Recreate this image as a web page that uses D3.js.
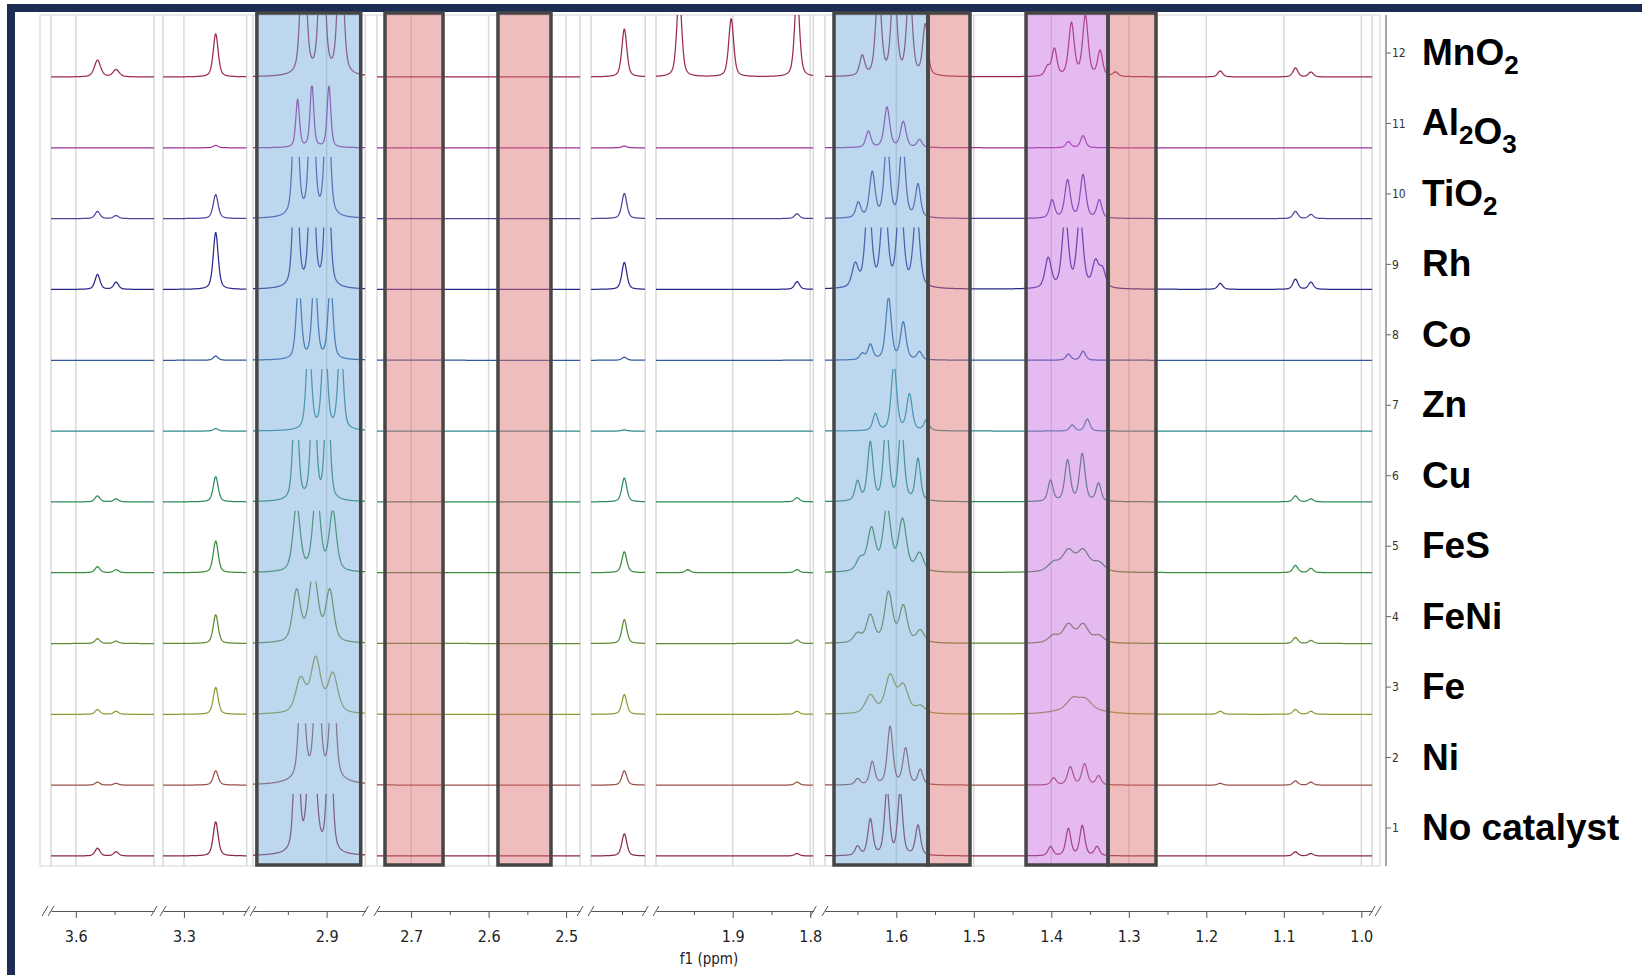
<!DOCTYPE html>
<html>
<head>
<meta charset="utf-8">
<script src="https://cdn.jsdelivr.net/npm/d3@7"></script>
<style>
  body { margin: 0; background: #fff; }
  svg { display: block; }
</style>
</head>
<body>
<svg width="1642" height="975"></svg>
<script>
'use strict';

// traces, bottom one first (trace number = index + 1)
var catalysts = ['No catalyst', 'Ni', 'Fe', 'FeNi', 'FeS', 'Cu', 'Zn', 'Co', 'Rh', 'TiO2', 'Al2O3', 'MnO2'];

// ppm windows of the broken f1 axis, left to right
var segments = [[3.632, 3.499], [3.327, 3.219], [2.995, 2.850], [2.744, 2.482], [2.19, 2.12], [1.999, 1.796], [1.692, 0.986]];
var majorTicks = [[3.6], [3.3], [2.9], [2.7, 2.6, 2.5], [], [1.9, 1.8], [1.6, 1.5, 1.4, 1.3, 1.2, 1.1, 1.0]];
var minorTicks = [[3.55], [3.25], [2.95], [2.65, 2.55], [2.15], [1.95, 1.85], [1.65, 1.55, 1.45, 1.35, 1.25, 1.15, 1.05]];

// highlighted ppm ranges
var boxRanges = [[2.990, 2.856], [2.7337, 2.6588], [2.5879, 2.5195], [1.6804, 1.5591], [1.5591, 1.5049], [1.4326, 1.3268], [1.3268, 1.2649]];
var boxKinds = ['blue', 'red', 'red', 'blue', 'red', 'purple', 'red'];

// peaks: [ppm, height (1 = one trace step), half width in ppm]
var peaksNoCatalyst = [
  [3.572, 0.13], [3.548, 0.07], [3.259, 0.57],
  [2.9387, 2.5], [2.919, 2.6, 0.0055], [2.896, 2.5],
  [2.147, 0.37], [1.817, 0.04],
  [1.650, 0.15], [1.6335, 0.6], [1.612, 1.1], [1.595, 1.05], [1.572, 0.5],
  [1.401, 0.15], [1.378, 0.45], [1.360, 0.5], [1.341, 0.15],
  [1.085, 0.07], [1.065, 0.04]
];
var peaksNi = [
  [3.572, 0.05], [3.548, 0.03], [3.259, 0.24],
  [2.932, 2.0, 0.0042], [2.912, 2.3, 0.0042], [2.892, 2.0, 0.0042], [2.912, 0.12, 0.03],
  [2.147, 0.24], [1.817, 0.05],
  [1.650, 0.1], [1.631, 0.38], [1.608, 0.97, 0.0042], [1.588, 0.6, 0.0042], [1.569, 0.25],
  [1.397, 0.12], [1.3755, 0.3, 0.0042], [1.357, 0.35, 0.0042], [1.339, 0.15],
  [1.182, 0.03], [1.085, 0.07], [1.065, 0.05]
];
var peaksFe = [
  [3.572, 0.08], [3.548, 0.05], [3.259, 0.45],
  [2.9335, 0.56, 0.0075], [2.914, 0.9, 0.0075], [2.892, 0.65, 0.0075],
  [2.147, 0.33], [1.817, 0.05],
  [1.6335, 0.3, 0.0075], [1.608, 0.62, 0.0075], [1.591, 0.45, 0.0075], [1.569, 0.12, 0.0075],
  [1.372, 0.17, 0.009], [1.356, 0.15, 0.009], [1.364, 0.1, 0.03],
  [1.182, 0.05], [1.085, 0.08], [1.065, 0.05]
];
var peaksFeNi = [
  [3.572, 0.08], [3.548, 0.04], [3.259, 0.48],
  [2.9387, 0.85, 0.006], [2.917, 1.15, 0.007], [2.896, 0.85, 0.006],
  [2.147, 0.4], [1.817, 0.06],
  [1.650, 0.15, 0.006], [1.6335, 0.45, 0.006], [1.610, 0.83, 0.006], [1.591, 0.6, 0.006], [1.569, 0.2, 0.006],
  [1.397, 0.12, 0.008], [1.378, 0.3, 0.008], [1.359, 0.3, 0.008], [1.339, 0.12, 0.008],
  [1.085, 0.1], [1.065, 0.05]
];
var peaksFeS = [
  [3.572, 0.1], [3.548, 0.05], [3.259, 0.53],
  [2.9387, 1.1, 0.0055], [2.913, 1.4, 0.0055], [2.892, 1.0, 0.0055],
  [2.147, 0.35], [1.958, 0.05], [1.817, 0.05],
  [1.6465, 0.2, 0.006], [1.632, 0.7, 0.006], [1.612, 1.05, 0.006], [1.592, 0.85, 0.006], [1.570, 0.3, 0.006],
  [1.397, 0.15, 0.009], [1.378, 0.34, 0.009], [1.359, 0.34, 0.009], [1.339, 0.15, 0.009],
  [1.085, 0.12], [1.065, 0.07]
];
var peaksCu = [
  [3.572, 0.1], [3.548, 0.05], [3.259, 0.42],
  [2.940, 2.0], [2.917, 2.2], [2.899, 2.0],
  [2.147, 0.4], [1.817, 0.07],
  [1.650, 0.32], [1.6335, 0.97, 0.0042], [1.613, 1.3, 0.0042], [1.5935, 1.25, 0.0042], [1.572, 0.7],
  [1.401, 0.35], [1.379, 0.68, 0.0042], [1.360, 0.79, 0.0042], [1.339, 0.3],
  [1.085, 0.1], [1.065, 0.05]
];
var peaksZn = [
  [3.259, 0.04],
  [2.923, 1.6], [2.9026, 1.8], [2.882, 1.6],
  [2.147, 0.02],
  [1.627, 0.28], [1.603, 1.1, 0.0042], [1.583, 0.6, 0.0042], [1.561, 0.18],
  [1.373, 0.1], [1.3535, 0.2]
];
var peaksCo = [
  [3.259, 0.07],
  [2.936, 1.3], [2.9155, 1.5], [2.895, 1.3],
  [2.147, 0.05],
  [1.644, 0.1], [1.6335, 0.25], [1.610, 1.04, 0.0042], [1.591, 0.62, 0.0042], [1.570, 0.13],
  [1.378, 0.1], [1.359, 0.15]
];
var peaksRh = [
  [3.572, 0.25], [3.548, 0.12], [3.259, 0.95],
  [2.940, 2.5], [2.919, 2.8], [2.899, 2.5],
  [2.147, 0.45], [1.817, 0.13],
  [1.653, 0.38, 0.0048], [1.636, 1.5, 0.0048], [1.6155, 1.6, 0.0048], [1.595, 1.6, 0.0048], [1.574, 1.3, 0.0048],
  [1.404, 0.5, 0.0048], [1.382, 1.2, 0.0048], [1.363, 1.2, 0.0048], [1.343, 0.42, 0.0048], [1.334, 0.3, 0.0048],
  [1.182, 0.1], [1.085, 0.17], [1.065, 0.12]
];
var peaksTiO2 = [
  [3.572, 0.12], [3.548, 0.05], [3.259, 0.4],
  [2.940, 2.5], [2.919, 2.8], [2.899, 2.5],
  [2.147, 0.42], [1.817, 0.08],
  [1.649, 0.25], [1.631, 0.75, 0.0042], [1.612, 1.3, 0.0042], [1.592, 1.3, 0.0042], [1.572, 0.55],
  [1.399, 0.3], [1.379, 0.63, 0.0042], [1.359, 0.72, 0.0042], [1.338, 0.3],
  [1.085, 0.12], [1.065, 0.07]
];
var peaksAl2O3 = [
  [3.259, 0.04],
  [2.9374, 0.8, 0.0028], [2.919, 1.05, 0.0028], [2.897, 1.03, 0.0028],
  [2.147, 0.03],
  [1.636, 0.27], [1.612, 0.67, 0.0042], [1.591, 0.43, 0.0042], [1.570, 0.13],
  [1.378, 0.1], [1.359, 0.2]
];
var peaksMnO2 = [
  [3.572, 0.28, 0.0048], [3.548, 0.12, 0.0048], [3.259, 0.72],
  [2.930, 2.5, 0.0042], [2.906, 2.8, 0.0042], [2.882, 2.5, 0.0042],
  [2.147, 0.8], [1.969, 1.4], [1.902, 0.97], [1.817, 1.4],
  [1.644, 0.33], [1.623, 1.5, 0.0042], [1.603, 1.6, 0.0042], [1.583, 1.5, 0.0042], [1.5626, 0.85],
  [1.405, 0.15], [1.396, 0.45], [1.374, 0.88, 0.0042], [1.356, 1.0, 0.0042], [1.337, 0.42],
  [1.317, 0.07], [1.182, 0.1], [1.085, 0.15], [1.065, 0.08]
];
var tracePeaks = [peaksNoCatalyst, peaksNi, peaksFe, peaksFeNi, peaksFeS, peaksCu,
  peaksZn, peaksCo, peaksRh, peaksTiO2, peaksAl2O3, peaksMnO2];

// styles
var traceColors = ['#8c2a44', '#9a5048', '#939a34', '#5e8c34', '#3a8a40', '#2e8a5a',
  '#2f8a8e', '#2f5a9c', '#2a2a8c', '#55409c', '#a0329c', '#9a2c4c'];
var boxFill = { blue: '#6ca6d9', red: '#db6c6c', purple: '#c365dd' };

// layout
var segmentLeft = [51, 163, 253, 377, 591, 656, 825];
var pxPerPpm = 775;
var unit = 60;       // px per unit of height
var clipH = 62;      // a trace is cut this far above its baseline
var plotTop = 15, plotBottom = 866, plotLeft = 40, plotRight = 1380;
var axisY = 911;
var eta = 0.5, defaultWidth = 0.0038;

var svg = d3.select('svg');

// dark frame
svg.append('rect').attr('x', 7).attr('y', 4).attr('width', 1635).attr('height', 8).attr('fill', '#1b2d52');
svg.append('rect').attr('x', 7).attr('y', 4).attr('width', 8).attr('height', 971).attr('fill', '#1b2d52');

// plot border
svg.append('rect')
  .attr('x', plotLeft).attr('y', plotTop)
  .attr('width', plotRight - plotLeft).attr('height', plotBottom - plotTop)
  .attr('fill', 'none').attr('stroke', '#d4d4d4').attr('stroke-width', 1);

var xScales = segments.map(function(dom, i) {
  var x0 = segmentLeft[i];
  return d3.scaleLinear().domain(dom).range([x0, x0 + (dom[0] - dom[1]) * pxPerPpm]);
});
function xOf(ppm) {
  for (var i = 0; i < xScales.length; i++) {
    var dom = segments[i];
    if (ppm <= dom[0] + 1e-9 && ppm >= dom[1] - 1e-9) return xScales[i](ppm);
  }
  return null;
}
var yBase = d3.scaleLinear().domain([1, 12]).range([856, 77]);
var yTick = d3.scaleLinear().domain([1, 12]).range([828, 53]);

// grid lines: segment edges and labelled ticks
var grid = svg.append('g');
xScales.forEach(function(s, i) {
  var xs = s.range().concat(majorTicks[i].map(s));
  xs.forEach(function(x) {
    grid.append('line')
      .attr('x1', x).attr('x2', x).attr('y1', plotTop).attr('y2', plotBottom)
      .attr('stroke', '#d9d9d9').attr('stroke-width', 1.5);
  });
});

// spectra
function shape(d, w) {
  var u = d / w;
  return eta / (1 + u * u) + (1 - eta) * Math.exp(-Math.LN2 * u * u);
}
function intensity(peaks, ppm) {
  var sum = 0;
  peaks.forEach(function(p) { sum += p[1] * shape(ppm - p[0], p[2] || defaultWidth); });
  return sum;
}

var defs = svg.append('defs');
var traces = svg.append('g');
tracePeaks.forEach(function(peaks, t) {
  var n = t + 1;
  var base = yBase(n);
  var top = Math.max(plotTop, base - clipH);
  defs.append('clipPath').attr('id', 'clip' + n)
    .append('rect')
    .attr('x', plotLeft).attr('width', plotRight - plotLeft)
    .attr('y', top).attr('height', base - top + 12);

  var line = d3.line().x(function(d) { return d[0]; }).y(function(d) { return d[1]; });
  var g = traces.append('g').attr('clip-path', 'url(#clip' + n + ')');
  xScales.forEach(function(s) {
    var r = s.range();
    var pts = [];
    for (var x = r[0]; x <= r[1] + 0.01; x += 0.5) {
      pts.push([x, base - intensity(peaks, s.invert(x)) * unit]);
    }
    g.append('path').attr('d', line(pts))
      .attr('fill', 'none').attr('stroke', traceColors[t])
      .attr('stroke-width', 1.25).attr('stroke-linejoin', 'round');
  });
});

// highlight boxes
var boxes = svg.append('g');
boxRanges.forEach(function(b, i) {
  var x1 = xOf(b[0]), x2 = xOf(b[1]);
  boxes.append('rect')
    .attr('x', x1).attr('y', plotTop - 2)
    .attr('width', x2 - x1).attr('height', plotBottom - plotTop + 1)
    .attr('fill', boxFill[boxKinds[i]]).attr('fill-opacity', 0.45);
});
boxRanges.forEach(function(b) {
  var x1 = xOf(b[0]), x2 = xOf(b[1]);
  boxes.append('rect')
    .attr('x', x1).attr('y', plotTop - 2)
    .attr('width', x2 - x1).attr('height', plotBottom - plotTop + 1)
    .attr('fill', 'none').attr('stroke', '#464646').attr('stroke-width', 3.5);
});

// broken f1 axis
var axisFont = '"DejaVu Sans Condensed", "DejaVu Sans", sans-serif';
var axisG = svg.append('g').attr('transform', 'translate(0,' + axisY + ')');
xScales.forEach(function(s, i) {
  var gMaj = axisG.append('g')
    .call(d3.axisBottom(s).tickValues(majorTicks[i]).tickSize(7).tickSizeOuter(0)
      .tickFormat(d3.format('.1f')));
  axisG.append('g')
    .call(d3.axisBottom(s).tickValues(minorTicks[i]).tickSize(4).tickSizeOuter(0).tickFormat(''))
    .select('.domain').remove();
  gMaj.selectAll('.tick text')
    .attr('font-family', axisFont)
    .attr('font-size', 16).attr('fill', '#222').attr('dy', '1.3em');

  var r = s.range();
  var ends = [r[0], r[1]];
  if (i === 0) ends.push(r[0] - 6);
  if (i === xScales.length - 1) ends.push(r[1] + 6);
  ends.forEach(function(x) {
    axisG.append('line')
      .attr('x1', x - 3).attr('x2', x + 3).attr('y1', 5).attr('y2', -5)
      .attr('stroke', '#555').attr('stroke-width', 1);
  });
});
axisG.selectAll('.domain').attr('stroke', '#555');
axisG.selectAll('.tick line').attr('stroke', '#555');
svg.append('text')
  .attr('x', 709).attr('y', 964).attr('text-anchor', 'middle')
  .attr('font-family', axisFont)
  .attr('font-size', 15).attr('fill', '#222')
  .text('f1 (ppm)');

// trace number axis on the right
var rightX = 1386;
svg.append('line')
  .attr('x1', rightX).attr('x2', rightX).attr('y1', plotTop).attr('y2', plotBottom)
  .attr('stroke', '#8a8a8a').attr('stroke-width', 1.5);
var labels = svg.append('g');
catalysts.forEach(function(name, t) {
  var n = t + 1;
  var y = yTick(n);
  labels.append('line')
    .attr('x1', rightX).attr('x2', rightX + 5).attr('y1', y).attr('y2', y)
    .attr('stroke', '#666').attr('stroke-width', 1);
  labels.append('text')
    .attr('x', rightX + 6).attr('y', y).attr('dy', '0.35em')
    .attr('font-family', axisFont)
    .attr('font-size', 12).attr('fill', '#333')
    .text(n);

  var txt = labels.append('text')
    .attr('x', 1422).attr('y', y + 12)
    .attr('font-family', '"Liberation Sans", Arial, sans-serif')
    .attr('font-weight', 'bold').attr('font-size', 37).attr('fill', '#000');
  name.match(/\d+|\D+/g).forEach(function(part) {
    if (/\d/.test(part)) {
      txt.append('tspan').attr('font-size', 26).attr('dy', 9).text(part);
      txt.append('tspan').attr('dy', -9).text('');
    } else {
      txt.append('tspan').text(part);
    }
  });
});
</script>
</body>
</html>
